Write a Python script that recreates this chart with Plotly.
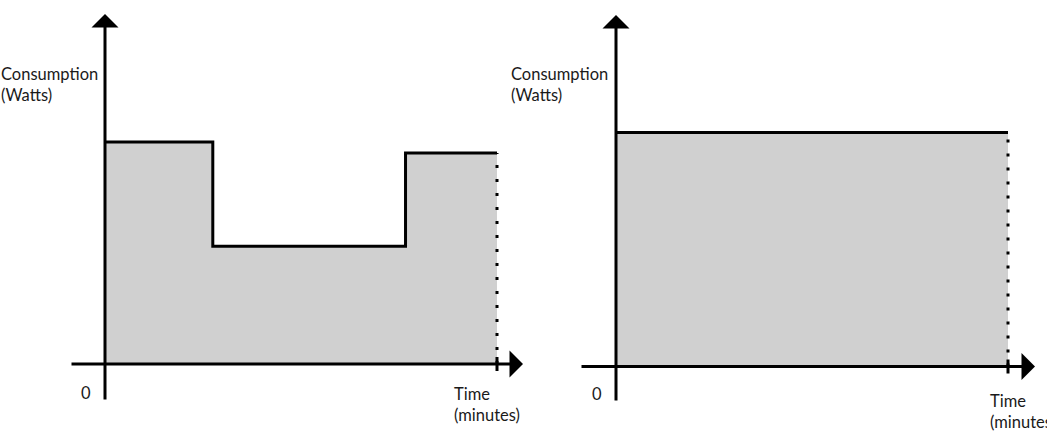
import plotly.graph_objects as go

# ---------------- data ----------------
left_time = [0, 16.5, 46.0, 60.0]          # minutes (step change points)
left_watts = [100, 53, 95, 95]             # consumption (W), step 'hv'
right_time = [0, 60.0]
right_watts = [105.4, 105.4]
x_label = ["Time", "(minutes)"]
y_label = ["Consumption", "(Watts)"]
origin_label = "0"

# ---------------- layout constants ----------------
W, H = 1047, 438
SX = 392 / 60.0     # px per minute
SY = 2.22           # px per watt
FILL = "#d0d0d0"
INK = "#000000"
TXT = "#1a1a1a"
FONT = "Lato"
FS = 16.5

def xr(origin_px, dom):
    a, b = dom[0] * W, dom[1] * W
    return [-(origin_px - a) / SX, (b - origin_px) / SX]

def yr(origin_px):
    return [-(H - origin_px) / SY, origin_px / SY]

panels = [
    dict(t=left_time, w=left_watts, xo=105, yo=364, dom=[0, 0.5], xa="x", ya="y",
         xstart=70, xtip=523, ybot=401, ytip=14,
         ylab=(-1, 84), xlab=(452, 393), zero=(86, 393)),
    dict(t=right_time, w=right_watts, xo=616, yo=366.5, dom=[0.5, 1], xa="x2", ya="y2",
         xstart=580, xtip=1035, ybot=402, ytip=15,
         ylab=(509, 84), xlab=(988, 400), zero=(597, 394)),
]

fig = go.Figure()
annotations = []

for p in panels:
    T = p["t"][-1]
    last = p["w"][-1]
    # filled step area
    fig.add_trace(go.Scatter(x=p["t"], y=p["w"], mode="lines", line_shape="hv",
                             fill="tozeroy", fillcolor=FILL,
                             line=dict(color=INK, width=3),
                             xaxis=p["xa"], yaxis=p["ya"], hoverinfo="skip",
                             showlegend=False))
    # dotted closing line
    fig.add_trace(go.Scatter(x=[T, T], y=[0, last], mode="lines",
                             line=dict(color=INK, width=3, dash="3px,11px"),
                             xaxis=p["xa"], yaxis=p["ya"], hoverinfo="skip",
                             showlegend=False))
    # small tick at end on x axis
    fig.add_trace(go.Scatter(x=[T, T], y=[-7 / SY, 7 / SY], mode="lines",
                             line=dict(color=INK, width=3),
                             xaxis=p["xa"], yaxis=p["ya"], hoverinfo="skip",
                             showlegend=False))
    xo, yo = p["xo"], p["yo"]
    # x axis arrow
    annotations.append(dict(x=(p["xtip"] - xo) / SX, y=0, ax=(p["xstart"] - xo) / SX, ay=0,
                            xref=p["xa"], yref=p["ya"], axref=p["xa"], ayref=p["ya"],
                            text="", showarrow=True, arrowhead=1, arrowsize=1.5,
                            arrowwidth=3, arrowcolor=INK, standoff=0))
    # y axis arrow
    annotations.append(dict(x=0, y=(yo - p["ytip"]) / SY, ax=0, ay=-(p["ybot"] - yo) / SY,
                            xref=p["xa"], yref=p["ya"], axref=p["xa"], ayref=p["ya"],
                            text="", showarrow=True, arrowhead=1, arrowsize=1.5,
                            arrowwidth=3, arrowcolor=INK, standoff=0))
    # labels
    annotations.append(dict(x=p["ylab"][0] / W, y=1 - p["ylab"][1] / H, xref="paper", yref="paper",
                            xanchor="left", yanchor="middle", align="left", showarrow=False,
                            text="<br>".join(y_label), font=dict(family=FONT, size=FS, color=TXT)))
    annotations.append(dict(x=p["xlab"][0] / W, y=1 - (p["xlab"][1] + 11) / H, xref="paper", yref="paper",
                            xanchor="left", yanchor="middle", align="left", showarrow=False,
                            text="<br>".join(x_label), font=dict(family=FONT, size=FS, color=TXT)))
    annotations.append(dict(x=p["zero"][0] / W, y=1 - p["zero"][1] / H, xref="paper", yref="paper",
                            xanchor="center", yanchor="middle", showarrow=False,
                            text=origin_label, font=dict(family=FONT, size=FS, color=TXT)))

fig.update_layout(
    width=W, height=H, margin=dict(l=0, r=0, t=0, b=0),
    paper_bgcolor="white", plot_bgcolor="white",
    showlegend=False,
    xaxis=dict(domain=panels[0]["dom"], range=xr(105, panels[0]["dom"]), visible=False, fixedrange=True),
    yaxis=dict(domain=[0, 1], range=yr(364), visible=False, fixedrange=True),
    xaxis2=dict(domain=panels[1]["dom"], range=xr(616, panels[1]["dom"]), visible=False,
                fixedrange=True, anchor="y2"),
    yaxis2=dict(domain=[0, 1], range=yr(366.5), visible=False, fixedrange=True, anchor="x2"),
    annotations=annotations,
)

fig.write_html("out.html")
